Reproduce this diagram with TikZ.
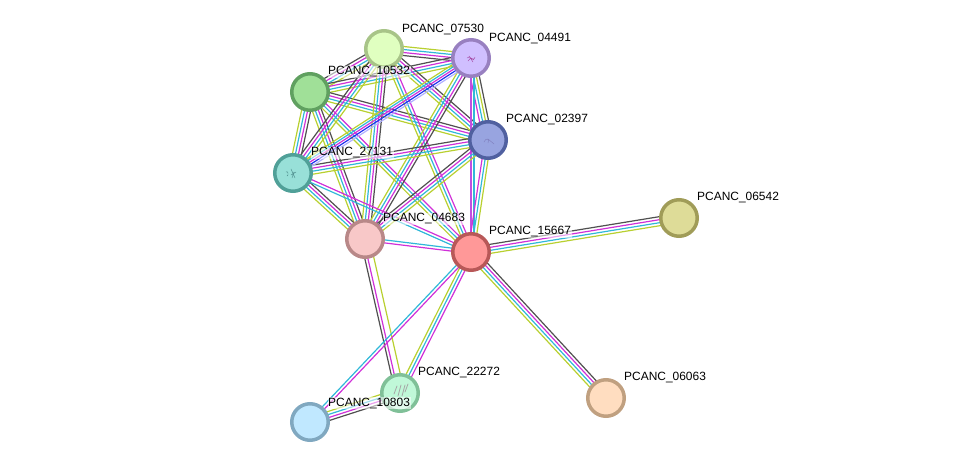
\documentclass[tikz,border=0pt]{standalone}
\usepackage{fontspec}
\setmainfont{Liberation Sans}
\usetikzlibrary{calc}
\definecolor{chDark}{HTML}{505050}
\definecolor{chMag}{HTML}{D030D8}
\definecolor{chCyan}{HTML}{30B8D8}
\definecolor{chLime}{HTML}{B8D030}
\definecolor{chBlue}{HTML}{2030F0}
\definecolor{chPale}{HTML}{B0B0FF}
\definecolor{chViolet}{HTML}{C050E0}
% fill and rim of each protein
\definecolor{fA}{HTML}{E0FFC0}\definecolor{rA}{HTML}{A8C488}
\definecolor{fB}{HTML}{D0BFFF}\definecolor{rB}{HTML}{9880C0}
\definecolor{fC}{HTML}{A0E098}\definecolor{rC}{HTML}{60A060}
\definecolor{fD}{HTML}{98A4E0}\definecolor{rD}{HTML}{5060A0}
\definecolor{fE}{HTML}{98E0D8}\definecolor{rE}{HTML}{50A098}
\definecolor{fF}{HTML}{F8C8C8}\definecolor{rF}{HTML}{B88888}
\definecolor{fG}{HTML}{FF9898}\definecolor{rG}{HTML}{B85858}
\definecolor{fH}{HTML}{DEDC98}\definecolor{rH}{HTML}{A09C58}
\definecolor{fI}{HTML}{C0F8D8}\definecolor{rI}{HTML}{80C098}
\definecolor{fJ}{HTML}{C0E8FF}\definecolor{rJ}{HTML}{80A8C0}
\definecolor{fK}{HTML}{FFDDC0}\definecolor{rK}{HTML}{C0A080}
\tikzset{
  protein/.style 2 args={circle,draw=#2,fill=#1,line width=3.5bp,minimum size=36.5bp,inner sep=0pt},
  tag/.style={anchor=base west,font=\fontsize{12}{12}\selectfont,inner sep=0.6bp,fill=white,fill opacity=0.55,text opacity=1},
  channel/.style={line width=1.2bp},
  fold/.style={line width=0.45bp,line cap=round}
}
% One strand of an interaction: colour, perpendicular offset, end nodes
\newcommand{\strand}[4]{\draw[channel,#1] ($(#3.center)!#2*1.5bp!90:(#4.center)$) -- ($(#4.center)!#2*1.5bp!-90:(#3.center)$);}
% Bundles of evidence channels
\newcommand{\linkDMCL}[2]{\strand{chDark}{3}{#1}{#2}\strand{chMag}{1}{#1}{#2}\strand{chCyan}{-1}{#1}{#2}\strand{chLime}{-3}{#1}{#2}}
\newcommand{\linkDLCM}[2]{\strand{chDark}{3}{#1}{#2}\strand{chLime}{1}{#1}{#2}\strand{chCyan}{-1}{#1}{#2}\strand{chMag}{-3}{#1}{#2}}
\newcommand{\linkMCL}[2]{\strand{chMag}{2}{#1}{#2}\strand{chCyan}{0}{#1}{#2}\strand{chLime}{-2}{#1}{#2}}
\newcommand{\linkMC}[2]{\strand{chMag}{1}{#1}{#2}\strand{chCyan}{-1}{#1}{#2}}
\newcommand{\linkDML}[2]{\strand{chDark}{3}{#1}{#2}\strand{chMag}{1}{#1}{#2}\strand{chLime}{-3}{#1}{#2}}
\begin{document}
\begin{tikzpicture}[x=1bp,y=-1bp]
\useasboundingbox (0,0) rectangle (976,467);
% protein coordinates
\coordinate (c07530) at (384,49);
\coordinate (c04491) at (471,58);
\coordinate (c10532) at (310,92);
\coordinate (c02397) at (488,140);
\coordinate (c27131) at (293,173);
\coordinate (c04683) at (365,239);
\coordinate (c15667) at (471,252);
\coordinate (c06542) at (679,218);
\coordinate (c22272) at (400,393);
\coordinate (c10803) at (310,422);
\coordinate (c06063) at (606,398);
% interaction strands
\linkDMCL{c04491}{c07530}
\linkDMCL{c10532}{c07530}
\linkDMCL{c10532}{c04491}
\linkDMCL{c10532}{c02397}
\linkDMCL{c10532}{c27131}
\linkDMCL{c10532}{c04683}
\linkMCL{c10532}{c15667}
\linkDMCL{c27131}{c07530}
\linkDMCL{c07530}{c04683}
\linkMCL{c07530}{c15667}
\linkDMCL{c07530}{c02397}
\linkDLCM{c04491}{c02397}
\linkDMCL{c04491}{c04683}
\strand{chViolet}{0}{c15667}{c04491}
\strand{chCyan}{-2}{c15667}{c04491}
\linkDMCL{c27131}{c02397}
\linkDMCL{c27131}{c04683}
\linkMC{c27131}{c15667}
\linkDMCL{c04683}{c02397}
\linkMCL{c15667}{c02397}
\linkMC{c15667}{c04683}
\strand{chLime}{-3}{c04491}{c27131}
\strand{chCyan}{-1.5}{c04491}{c27131}
\strand{chMag}{0}{c04491}{c27131}
\strand{chBlue}{1.5}{c04491}{c27131}
\strand{chPale}{3}{c04491}{c27131}
\linkDML{c22272}{c04683}
\linkMCL{c15667}{c22272}
\linkMC{c15667}{c10803}
\linkDMCL{c22272}{c10803}
\linkDMCL{c15667}{c06542}
\linkDMCL{c15667}{c06063}
% proteins
\node[protein={fA}{rA}] (n07530) at (c07530) {};
\node[protein={fB}{rB}] (n04491) at (c04491) {};
\node[protein={fC}{rC}] (n10532) at (c10532) {};
\node[protein={fD}{rD}] (n02397) at (c02397) {};
\node[protein={fE}{rE}] (n27131) at (c27131) {};
\node[protein={fF}{rF}] (n04683) at (c04683) {};
\node[protein={fG}{rG}] (n15667) at (c15667) {};
\node[protein={fH}{rH}] (n06542) at (c06542) {};
\node[protein={fI}{rI}] (n22272) at (c22272) {};
\node[protein={fJ}{rJ}] (n10803) at (c10803) {};
\node[protein={fK}{rK}] (n06063) at (c06063) {};
% small structure sketches inside some proteins
\draw[fold,draw=violet!70] (467,58) .. controls (470,54) and (473,63) .. (475,57) (468,61) .. controls (471,56) and (472,60) .. (474,60) (469,56) -- (473,62);
\draw[fold,draw=blue!50!black!50] (484,142) .. controls (486,137) and (490,139) .. (488,143) (488,139) -- (494,144);
\draw[fold,draw=teal!70!black!70] (291,169) -- (295,178) (294,172) -- (292,178) (296,172) -- (291,175) (286,172) .. controls (288,170) and (289,176) .. (287,176);
\draw[fold,draw=black!35,line width=0.8bp] (394,394) -- (397,386) (398,396) -- (401,385) (402,396) -- (405,385) (405,392) -- (408,384);
% protein names
\node[tag] (t07530) at (401.4,33) {PCANC\_07530};
\node[tag] (t04491) at (488.4,42) {PCANC\_04491};
\node[tag] (t10532) at (327.4,75) {PCANC\_10532};
\node[tag] (t02397) at (505.4,123) {PCANC\_02397};
\node[tag] (t27131) at (310.4,156) {PCANC\_27131};
\node[tag] (t04683) at (382.4,222) {PCANC\_04683};
\node[tag] (t15667) at (488.4,235) {PCANC\_15667};
\node[tag] (t06542) at (696.4,201) {PCANC\_06542};
\node[tag] (t22272) at (417.4,376) {PCANC\_22272};
\node[tag] (t10803) at (327.4,406) {PCANC\_10803};
\node[tag] (t06063) at (623.4,381) {PCANC\_06063};
\end{tikzpicture}
\end{document}
